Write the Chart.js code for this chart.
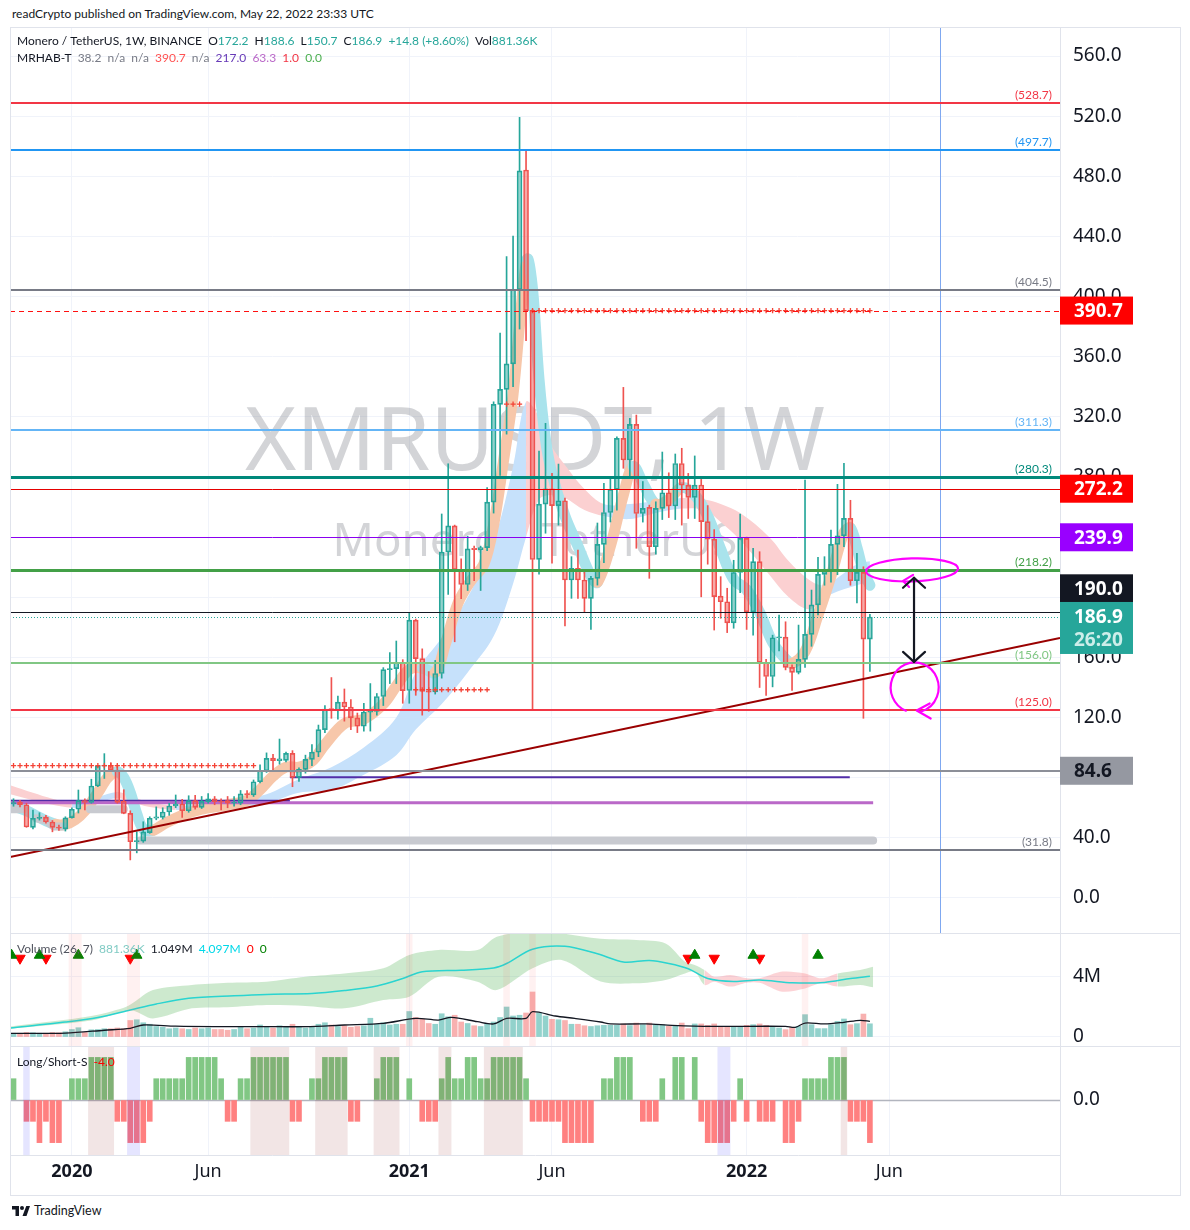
<!DOCTYPE html>
<html>
<head>
<meta charset="utf-8">
<title>XMRUSDT 1W</title>
<script src="https://cdn.jsdelivr.net/npm/chart.js@4.4.1/dist/chart.umd.min.js"></script>
<style>
  html, body { margin: 0; padding: 0; background: #fff; }
  body { width: 1190px; height: 1230px; position: relative; overflow: hidden; font-family: "Noto Sans", sans-serif; color: #131722; }
  #title { position: absolute; left: 12px; top: 6px; font-size: 12px; font-family: Lato, sans-serif; }
  canvas { position: absolute; left: 10px; }
  #frame { position: absolute; left: 10px; top: 27px; width: 1171px; height: 1169px; box-sizing: border-box; border: 1px solid #e0e3eb; pointer-events: none; }
  .sep { position: absolute; left: 10px; width: 1171px; height: 1px; background: #e0e3eb; }
  #axisFoot { position: absolute; left: 1060px; top: 1155px; width: 1px; height: 40px; background: #e0e3eb; }
  #logo { position: absolute; left: 12px; top: 1203px; font-size: 12.5px; font-family: Lato, sans-serif; display: flex; align-items: center; gap: 4px; }
</style>
</head>
<body>
<div id="title">readCrypto published on TradingView.com, May 22, 2022 23:33 UTC</div>
<canvas id="cMain" width="1170" height="906" style="top:27px"></canvas>
<canvas id="cVol" width="1170" height="113" style="top:933px"></canvas>
<canvas id="cLS" width="1170" height="149" style="top:1046px"></canvas>
<div class="sep" style="top:933px"></div>
<div class="sep" style="top:1046px"></div>
<div id="axisFoot"></div>
<div id="frame"></div>
<div id="logo"><svg width="18" height="12" viewBox="0 0 36 24"><path d="M14 22H7V9H0V2h14v20zM29 22h-8l7.5-20h7.5L29 22z" fill="#131722"/><circle cx="20" cy="6" r="4" fill="#131722"/></svg><span>TradingView</span></div>

<script>
// week index 0 = bar of 6 Jan 2020, first bar = 4 Nov 2019
const firstWeek = -9;

const opens = [
  62.5, 63.8, 62, 47, 53, 53.8, 50.5, 47, 46,
  53.4, 59, 64.8, 63.5, 74.5, 87.8, 88.3, 85, 64.5, 56.3,
  37.4, 37.8, 43.5, 53, 53.6, 57.2, 61.2, 62.5, 58, 64.7,
  60.3, 64, 66, 64.3, 64.7, 63, 63, 69.3, 68.6, 77.3,
  84.6, 93, 91.3, 91.5, 96.2, 80.2, 85.5, 92.2, 96.9, 112,
  126, 124.5, 130.3, 127, 119.8, 114.2, 123.7, 124, 134, 151.9,
  152.5, 156.6, 138, 184.8, 159.2, 137.6, 137, 149.3, 230.1, 247.5,
  218.5, 208.5, 232.6, 231.5, 233, 263.3, 328.3, 338.3, 355.2, 404.7,
  484.2, 390.7, 225.2, 262, 272.2, 261, 264.2, 211.5, 219.3, 211.5,
  199.3, 212.6, 235.2, 256.4, 271.8, 305.7, 291.3, 315, 255.7, 259.8,
  233.6, 259.1, 269.5, 260.7, 289, 274.6, 266.4, 274.7, 250.3, 238.6,
  200.8, 197, 183, 216.5, 239.2, 190.4, 223.7, 156.8, 147.3, 173.1,
  173.5, 153.4, 150.1, 158.7, 175.3, 194.9, 215.2, 217.4, 235.2, 240.9,
  252.5, 211, 216.6, 172.2
];
const highs = [
  66, 65, 63, 58.5, 56.7, 55, 51.5, 48.5, 54,
  60, 71.8, 66, 79, 88, 96, 90, 88.5, 72, 58,
  44, 50.7, 54, 60.6, 60, 63, 68.5, 65.6, 68, 68.3,
  67.5, 69.5, 67.5, 66, 67.5, 67.5, 71.5, 71.5, 78.5, 88.6,
  96.5, 95.5, 105.7, 97, 98, 86.5, 95, 102, 115, 128,
  146.6, 134.3, 139, 132, 123, 129.5, 142.6, 136, 153.2, 163.2,
  170.9, 158.5, 189.6, 185.5, 165.7, 150.6, 158, 255.4, 288.8, 248,
  225.6, 240.6, 234, 234, 273, 330, 375.8, 426.6, 440.3, 519.2,
  497.7, 391.5, 297.3, 315.7, 282.4, 288.6, 266, 227, 231.4, 217,
  214, 249.4, 275.8, 279.1, 306.7, 339.6, 319, 321.2, 277, 261.3,
  263.5, 296.6, 282.8, 295.3, 299.1, 282.4, 294, 278.4, 261, 245,
  213.7, 206, 224.6, 255.4, 240, 232.5, 230.3, 158.8, 174.8, 188.1,
  183.7, 155, 181.5, 278, 204.8, 226.5, 227, 244.7, 275.1, 289.1,
  264.5, 229.2, 220.3, 188.6
];
const lows = [
  61, 60.5, 47, 46, 51.8, 49.8, 44, 45, 44.5,
  53, 56.5, 58.5, 63, 74, 79.5, 84, 63, 56, 25.3,
  30, 37, 43, 52, 52.5, 55, 60, 53.6, 57, 59,
  59.5, 63, 62, 58.5, 60, 61, 62, 66.5, 67.5, 76.5,
  83.5, 84.5, 89, 90.5, 74, 77.5, 83, 88, 94, 110,
  119.5, 119, 117.6, 112, 110, 111, 111, 121.6, 128, 142.6,
  142.6, 129.5, 129.5, 134.8, 121.6, 124.2, 135.6, 146.2, 201.9, 170.4,
  199, 204.5, 211, 204.5, 231, 256, 281, 308.5, 340, 378.4,
  370.6, 125, 215.3, 242.6, 222.6, 248, 180.9, 199.3, 199.3, 190.4,
  178.6, 208.1, 223, 250.1, 258, 285.8, 280.7, 232.6, 250, 212.6,
  228.7, 251.7, 253, 251.7, 248, 252.4, 252.4, 200.3, 222, 178.2,
  186, 176.5, 179.4, 203, 178.6, 174.8, 140, 134.7, 140.4, 164.4,
  151.7, 138, 149, 153.4, 167.4, 188.3, 208, 210, 215, 233.6,
  208, 196.3, 119.5, 150.7
];
const closes = [
  63.5, 61.9, 47.2, 53, 53.6, 50.5, 47, 46.6, 53.3,
  59, 64.7, 63.5, 74.5, 87.8, 88.3, 85, 63.6, 56.3, 37.4,
  38.2, 44, 53, 54, 57.2, 61.2, 62.5, 58, 64.7, 60.3,
  64.2, 66, 64, 63.8, 63, 63.7, 69.2, 68.7, 77.3, 84.6,
  92.9, 91.3, 92.5, 96.2, 80.2, 85.5, 92.2, 96.9, 112, 125.6,
  124.5, 130.3, 127, 119.8, 114.2, 123.7, 124.2, 134, 151.9, 152.5,
  156.6, 137.9, 184.8, 159.2, 137.3, 137, 149.3, 230.1, 247.5, 218.5,
  208.5, 232.2, 231.7, 233, 263.3, 328.3, 338.3, 355.2, 404.7, 483.6,
  390.7, 225.1, 262, 272.2, 261, 264.2, 211.5, 219.3, 211.5, 199.3,
  212.6, 235.2, 256.4, 271.8, 305.7, 291.3, 315, 255.7, 259.1, 233.6,
  259.1, 269.5, 260.7, 289, 274.6, 266.4, 274.6, 250.3, 238.6, 200.4,
  197, 183, 216.5, 239.2, 190.4, 223.7, 156.8, 147.3, 173.1, 173.6,
  153.4, 150.1, 158.7, 175.3, 194.9, 215.2, 217.4, 235.2, 240.9, 252.5,
  211, 216.6, 172.2, 186.9
];

// volume (millions)
const volumes = [
  0.25, 0.25, 0.3, 0.28, 0.25, 0.25, 0.3, 0.28, 0.35,
  0.5, 0.62, 0.3, 0.48, 0.5, 0.55, 0.55, 0.6, 0.55, 1.1, 1.15,
  0.95, 0.85, 0.7, 0.65, 0.55, 0.6, 0.55, 0.5, 0.6, 0.55,
  0.6, 0.5, 0.5, 0.45, 0.5, 0.65, 0.55, 0.6, 0.8, 0.7,
  0.6, 0.75, 0.7, 0.85, 0.65, 0.6, 0.7, 0.85, 0.95, 0.8,
  0.7, 0.75, 0.65, 0.7, 0.75, 1.25, 0.85, 0.95, 0.8, 0.85,
  0.85, 1.7, 1.3, 1.2, 0.9, 0.85, 1.55, 1.35, 1.45, 1.0,
  0.9, 0.75, 0.7, 0.85, 1.0, 1.3, 2.0, 1.4, 1.45, 1.6,
  3.0, 1.6, 1.4, 1.18, 1.15, 1.1, 0.85, 0.85, 0.75, 0.7,
  0.75, 0.78, 0.78, 0.78, 0.87, 0.76, 0.93, 0.82, 0.93, 0.82,
  0.82, 0.71, 0.71, 0.93, 0.56, 0.87, 0.87, 0.78, 0.87, 0.71,
  0.71, 0.71, 0.71, 0.78, 0.82, 0.87, 0.78, 0.64, 0.6, 0.49,
  0.64, 0.71, 1.49, 0.82, 0.56, 0.56, 0.82, 1.04, 1.2, 0.82,
  0.89, 1.53, 0.88
];
const volMaX = [-9.5, -1, 5, 9, 11, 16, 24, 30, 36, 42, 48, 53, 56.5, 58.5, 62.5, 65, 67, 70, 71, 74.5, 77.5, 81.5, 83, 88.5, 92.5, 98.5, 110, 111.5, 113, 116, 119, 121.5, 123];
const volMaY = [0.24, 0.26, 0.45, 0.58, 0.8, 0.72, 0.69, 0.69, 0.69, 0.8, 0.91, 1.24, 1.13, 1.31, 1.02, 0.87, 1.24, 1.24, 1.69, 1.4, 1.24, 1.0, 0.87, 0.87, 0.78, 0.71, 0.71, 0.64, 0.93, 0.87, 0.98, 1.11, 1.04];
const volAvgX = [-9.5, -1, 4, 9, 13, 18, 25, 30, 37, 42, 47, 51, 54, 60, 65, 67, 71, 76, 81, 85, 89, 92, 95, 98, 102, 106, 111, 116, 120, 123];
const volAvgY = [0.6, 1.0, 1.3, 1.8, 2.2, 2.58, 2.75, 2.84, 2.9, 3.1, 3.4, 3.9, 4.35, 4.45, 4.6, 4.9, 5.85, 6.05, 5.55, 5.0, 5.1, 4.9, 4.55, 3.9, 3.7, 3.8, 3.62, 3.64, 3.9, 4.05];
const bandX  = [-9.5, 3, 8, 9.5, 12.5, 18.5, 24, 30, 36, 42, 48, 52, 56.5, 62.5, 65.5, 71, 75.5, 81.5, 87, 91.5, 94.5, 96, 97.5, 99, 101.5, 104, 106, 109.5, 113, 115.5, 118, 121.5, 123.5];
const bandHi = [0.7, 1.4, 1.95, 2.3, 3.13, 3.47, 3.62, 3.69, 4.02, 4.24, 4.58, 5.47, 5.8, 5.8, 6.69, 7.0, 6.9, 6.55, 6.47, 6.24, 5.02, 4.8, 4.47, 4.02, 4.13, 3.91, 3.91, 4.36, 4.24, 3.91, 4.24, 4.47, 4.69];
const bandLo = [0.55, 1.1, 1.7, 1.75, 1.24, 1.91, 1.98, 2.13, 2.07, 1.91, 2.47, 2.69, 4.02, 3.69, 3.13, 4.58, 5.13, 3.7, 3.58, 3.8, 4.24, 4.36, 3.47, 3.69, 3.36, 3.62, 3.62, 3.02, 3.24, 3.58, 3.36, 3.47, 3.31];
const bandPink = [[96.5, 116.5]];
const triUpX = [-9.3, -5, 1, 10, 96, 105, 115];
const triDownX = [-8, -4, 9, 95, 99, 106];
const volShade = [[0, 1], [9, 10], [52, 52], [67, 67], [71, 71], [113, 113]];

// Long/Short-S
const lsValues = [
  1, 0, -1, -1, -2, -1, -2, -2, 0,
  1, 1, 1, 2, 2, 2, 2,
  -1, -1, -2, -2, -2, -1,
  1, 1, 1, 1, 1, 2, 2, 2, 2, 2, 1,
  -1, -1,
  1, 1, 2, 2, 2, 2, 2, 2,
  -1, -1, 0,
  1, 1, 2, 2, 2, 2,
  -1, -1, 0, 0,
  1, 2, 2, 2, 0, 1, 0,
  -1, -1, -1,
  1, 2, 1, 1, 2, 2, 1, 1, 2, 2, 2, 2, 2, 1,
  -1, -1, -1, -1, -1, -2, -2, -2, -2, -2,
  0, 1, 1, 2, 2, 2, 0, -1, -1, -1,
  1, 0, 2, 2, 0, 2, -1, -2, -2, -2,
  -2, -1, 1, -1, 0, -1, -1, -1, 0, -2,
  -2, -1, 1, 1, 1, 1, 2, 2, 2, -1,
  -1, -1, -2
];
const lsPinkShade = [[3, 6], [28, 33], [38, 42], [47, 50], [57, 58], [64, 69], [119, 119]];
const lsBlueShade = [[-7, -7], [9, 10], [100, 101]];

// ribbons
const fastX = [-9.5, -7, -5, -2.5, -1, 0.5, 2, 4, 5.5, 7, 8, 9, 10, 11, 12.5, 14.5, 17, 20, 24, 27, 29, 31, 33, 35, 37, 39, 42, 45, 48, 50, 52, 54, 56, 57.5, 59.5, 61.5, 63.5, 65, 66.5, 68, 69.3, 70.2, 71, 72, 73, 74, 76, 78, 80, 81, 83, 85, 86.5, 88, 90, 92, 94, 96, 98, 100, 102, 104, 106, 108, 110, 111, 113, 115, 117, 119, 120, 121, 122, 123];
const fastY = [62, 58, 53.5, 49, 49, 52, 58, 70, 80, 84, 80, 70, 56, 46, 45, 50, 55, 59, 62, 65, 72, 81, 87, 87, 91, 102, 116, 119, 129, 141, 152, 153, 150, 168, 196, 211, 222, 248, 290, 335, 395, 425, 405, 345, 305, 282, 254, 234, 214, 210, 234, 268, 287, 276, 262, 265, 273, 268, 254, 232, 212, 205, 190, 170, 159, 156, 164, 188, 214, 243, 246, 233, 217, 208];
const slowX  = [-9.5, -6, -3, 0, 2, 4, 7, 9, 12, 16, 20, 25, 30, 35, 40, 45, 50, 53, 57, 61, 65, 68, 70, 72, 74, 76, 79, 82, 86, 90, 94, 97.5, 100, 103, 107.5, 110.5, 113.5, 115.5, 117, 121, 123];
const slowHi = [75, 70, 66, 63, 63, 67, 70.5, 68, 63.5, 61.5, 62, 64.5, 69, 79, 87, 100, 120, 150, 173, 200, 237, 287, 330, 320, 300, 288, 272, 262, 262, 264, 266, 265, 262, 256, 240, 224, 212, 208, 210, 222, 224];
const slowLo = [69, 65, 62, 60, 60.5, 63, 66.5, 64, 60.5, 58.5, 59, 60.5, 63, 70, 72, 82, 95, 112, 129, 150, 174, 209, 240, 265, 268, 266, 258, 254, 252, 256, 259, 258, 250, 238, 215, 200, 192, 197, 202, 208, 210];

// other indicator lines
const supportX = [-9.5, -7.5, -6.5, -5.5, -4, -2.8, -1.2, 0, 2.8, 8, 9, 10.5, 123.5];
const supportY = [59, 59, null, 53, 51.5, 47.5, 47.5, null, 59, 59, null, 38.2, 38.2];
const stepPurpleX = [-9.5, 33.6, 33.7, 33.6, 119.9];
const stepPurpleY = [64.7, 64.7, null, 80.3, 80.3];
const stepOrchidX = [-9.5, 123.5];
const stepOrchidY = [63.3, 63.3];
const crossRuns = [[-9, 28, 88.0], [53, 64, 138.5], [67, 69, 328.5], [71, 123, 390.7]];
const trendX = [-9.54, 152.3];
const trendY = [27.3, 172.9];

// drawn levels
const levelPrices = [528.7, 497.7, 404.5, 311.3, 280.3, 272.2, 239.9, 218.2, 190.0, 156.0, 125.0, 84.6, 31.8];
const signalPrice = 390.7;
const markerWeek = 133.8;

// axes
const dateTicks = [0, 21, 52, 74, 104, 126];
const dateLabels = ['2020', 'Jun', '2021', 'Jun', '2022', 'Jun'];
const priceTicks = [0, 40, 80, 120, 160, 200, 240, 280, 320, 360, 400, 440, 480, 520, 560];
const volTicks = [0, 4];
const lsTicks = [0];

// ---------- styles ----------
const X_MIN = -9.54, X_MAX = 152.3;
const UP = '#26a69a', DN = '#ef5350';
const UP_FILL = 'rgba(38,166,154,0.5)', DN_FILL = 'rgba(239,83,80,0.5)';
const FAST_UP = '#f7c7aa', FAST_DN = '#a9e3ec';
const SLOW_UP = '#c6e1fb', SLOW_DN = '#fbd0d1';
const FONT = '"Noto Sans", sans-serif';
const SMALL_FONT = 'Lato, sans-serif';

const levelStyles = [
  { color: '#f23645', w: 2, label: true },
  { color: '#2196f3', w: 2, label: true },
  { color: '#787b86', w: 2, label: true },
  { color: '#64b5f6', w: 2, label: true },
  { color: '#00897b', w: 3, label: true },
  { color: '#e50000', w: 1 },
  { color: '#8a00f0', w: 1 },
  { color: '#43a047', w: 3, label: true },
  { color: '#131722', w: 1 },
  { color: '#81c784', w: 2, label: true },
  { color: '#f23645', w: 2, label: true },
  { color: '#8c8f98', w: 2 },
  { color: '#787b86', w: 2, label: true }
];

const lastClose = closes[closes.length - 1];
const priceBoxes = [
  { v: 390.7, bg: '#ff0000', fg: '#ffffff', dy: 0 },
  { v: 272.2, bg: '#ff0000', fg: '#ffffff', dy: 0 },
  { v: 239.9, bg: '#9900ff', fg: '#ffffff', dy: 0 },
  { v: 190.0, bg: '#131722', fg: '#ffffff', dy: -24 },
  { v: lastClose, bg: '#26a69a', fg: '#ffffff', dy: 0, sub: '26:20' },
  { v: 84.6, bg: '#9598a1', fg: '#131722', dy: 0 }
];

const noteOval = { x: 129.5, y: 218.2 };
const noteArrow = { x: 129.8, top: 213, bottom: 157 };
const noteLoop = { x: 129.9, y: 140 };

Chart.defaults.font.family = FONT;
Chart.defaults.color = '#131722';

const weekX = opens.map((_, i) => firstWeek + i);
const isUp = opens.map((o, i) => closes[i] >= o);
const bodyLo = opens.map((o, i) => Math.min(o, closes[i]));
const bodyHi = opens.map((o, i) => Math.max(o, closes[i]));

function pts(xs, ys) { return xs.map((x, i) => ({ x, y: ys[i] })); }

function xScale(showLabels) {
  return {
    type: 'linear', min: X_MIN, max: X_MAX, offset: false,
    afterBuildTicks: s => { s.ticks = dateTicks.map(v => ({ value: v })); },
    ticks: {
      display: showLabels, autoSkip: false, maxRotation: 0, padding: 6, color: '#131722',
      callback: (v, i) => dateLabels[i],
      font: c => ({ size: 18, weight: /^\d/.test(dateLabels[c.index] || '') ? 'bold' : 'normal' })
    },
    grid: { color: '#f0f3fa', drawTicks: false, offset: false },
    border: { display: showLabels, color: '#e0e3eb' },
    afterFit: s => { s.height = showLabels ? 40 : 0; s.paddingLeft = 0; s.paddingRight = 0; s.paddingTop = 0; s.paddingBottom = 0; }
  };
}

function yScale(min, max, ticks, fmt) {
  return {
    type: 'linear', position: 'right', min, max,
    afterBuildTicks: s => { s.ticks = ticks.map(v => ({ value: v })); },
    afterFit: s => { s.width = 120; s.paddingTop = 0; s.paddingBottom = 0; s.paddingLeft = 0; s.paddingRight = 0; },
    ticks: { callback: fmt, font: { size: 19 }, color: '#131722', padding: 13, autoSkip: false },
    grid: { color: '#f0f3fa', drawTicks: false },
    border: { color: '#e0e3eb' }
  };
}

const baseOptions = {
  responsive: false, animation: false, events: [],
  layout: { padding: 0, autoPadding: false },
  plugins: { legend: { display: false }, tooltip: { enabled: false } }
};

function legendLine(ctx, x, y, parts, size) {
  ctx.font = size + 'px ' + SMALL_FONT;
  ctx.textBaseline = 'middle';
  ctx.textAlign = 'left';
  parts.forEach(([t, c]) => { ctx.fillStyle = c; ctx.fillText(t, x, y); x += ctx.measureText(t).width; });
}

function shade(chart, ranges, color) {
  const { ctx, chartArea: a, scales: { x } } = chart;
  ctx.fillStyle = color;
  ranges.forEach(([s, e]) => {
    const l = x.getPixelForValue(s - 0.5), r = x.getPixelForValue(e + 0.5);
    ctx.fillRect(l, a.top, r - l, a.bottom - a.top);
  });
}

// ---------- main price pane ----------
const mainDeco = {
  id: 'mainDeco',
  beforeDatasetsDraw(chart) {
    const { ctx } = chart;
    ctx.save();
    ctx.fillStyle = 'rgba(120,123,134,0.33)';
    ctx.textAlign = 'center';
    ctx.textBaseline = 'alphabetic';
    const fit = (txt, w) => { ctx.font = '100px ' + FONT; return 100 * w / ctx.measureText(txt).width; };
    let s = fit('XMRUSDT, 1W', 580);
    ctx.font = s + 'px ' + FONT;
    ctx.fillText('XMRUSDT, 1W', 525, 443);
    s = fit('Monero / TetherUS', 405);
    ctx.font = s + 'px ' + FONT;
    ctx.fillText('Monero / TetherUS', 525, 529);
    ctx.restore();
  },
  afterDatasetsDraw(chart) {
    const { ctx, chartArea: a, scales: { x, y } } = chart;
    ctx.save();
    ctx.beginPath(); ctx.rect(a.left, a.top, a.right - a.left, a.bottom - a.top); ctx.clip();

    // vertical marker
    const vx = Math.round(x.getPixelForValue(markerWeek)) + 0.5;
    ctx.strokeStyle = '#7fa8f0'; ctx.lineWidth = 1;
    ctx.beginPath(); ctx.moveTo(vx, a.top); ctx.lineTo(vx, a.bottom); ctx.stroke();

    // signal dashed line
    let py = Math.round(y.getPixelForValue(signalPrice)) + 0.5;
    ctx.strokeStyle = '#ff1010'; ctx.lineWidth = 1.2; ctx.setLineDash([5, 4]);
    ctx.beginPath(); ctx.moveTo(a.left, py); ctx.lineTo(a.right, py); ctx.stroke();

    // last price dotted line
    py = Math.round(y.getPixelForValue(lastClose)) + 0.5;
    ctx.strokeStyle = '#26a69a'; ctx.lineWidth = 1; ctx.setLineDash([1, 2]);
    ctx.beginPath(); ctx.moveTo(a.left, py); ctx.lineTo(a.right, py); ctx.stroke();
    ctx.setLineDash([]);

    // level lines
    ctx.font = '12px ' + SMALL_FONT;
    ctx.textAlign = 'right'; ctx.textBaseline = 'bottom';
    levelPrices.forEach((p, i) => {
      const st = levelStyles[i];
      const ly = Math.round(y.getPixelForValue(p)) + (st.w % 2 ? 0.5 : 0);
      ctx.strokeStyle = st.color; ctx.lineWidth = st.w;
      ctx.beginPath(); ctx.moveTo(a.left, ly); ctx.lineTo(a.right, ly); ctx.stroke();
      if (st.label) {
        ctx.fillStyle = st.color;
        ctx.fillText('(' + p.toFixed(1) + ')', a.right - 8, ly - 2);
      }
    });

    // hand drawn notes
    ctx.strokeStyle = '#ff00ff'; ctx.lineWidth = 2.2; ctx.lineCap = 'round'; ctx.lineJoin = 'round';
    const ex = x.getPixelForValue(noteOval.x), ey = y.getPixelForValue(noteOval.y);
    ctx.beginPath(); ctx.ellipse(ex, ey, 46, 11.5, -0.03, 0, Math.PI * 2); ctx.stroke();
    ctx.beginPath(); ctx.moveTo(ex + 1, ey + 5); ctx.lineTo(ex - 9, ey + 11); ctx.lineTo(ex - 3, ey + 17); ctx.stroke();
    const lx = x.getPixelForValue(noteLoop.x), lyy = y.getPixelForValue(noteLoop.y);
    ctx.beginPath(); ctx.ellipse(lx, lyy, 24, 25, 0, Math.PI * 0.62, Math.PI * 2.42); ctx.stroke();
    ctx.beginPath(); ctx.moveTo(lx + 15, lyy + 16); ctx.lineTo(lx + 2, lyy + 23); ctx.lineTo(lx + 16, lyy + 31); ctx.stroke();

    ctx.strokeStyle = '#131722';
    const ax = x.getPixelForValue(noteArrow.x), at = y.getPixelForValue(noteArrow.top), ab = y.getPixelForValue(noteArrow.bottom);
    ctx.beginPath(); ctx.moveTo(ax, at); ctx.lineTo(ax, ab); ctx.stroke();
    ctx.beginPath(); ctx.moveTo(ax - 11, at + 10); ctx.lineTo(ax, at); ctx.lineTo(ax + 11, at + 10); ctx.stroke();
    ctx.beginPath(); ctx.moveTo(ax - 11, ab - 10); ctx.lineTo(ax, ab); ctx.lineTo(ax + 11, ab - 10); ctx.stroke();
    ctx.restore();
  },
  afterDraw(chart) {
    const { ctx, chartArea: a, scales: { y } } = chart;
    ctx.save();
    // price boxes on the axis
    priceBoxes.forEach(b => {
      const cy = y.getPixelForValue(b.v) + b.dy;
      const h = b.sub ? 52 : 28;
      const top = b.sub ? cy - 15 : cy - 14;
      ctx.fillStyle = b.bg;
      ctx.fillRect(a.right, top, 73, h);
      ctx.fillStyle = b.fg;
      ctx.font = 'bold 19px ' + FONT;
      ctx.textAlign = 'left'; ctx.textBaseline = 'middle';
      ctx.fillText(b.v.toFixed(1), a.right + 14, cy + 1);
      if (b.sub) {
        ctx.fillStyle = '#cdeeea';
        ctx.fillText(b.sub, a.right + 14, cy + 24);
      }
    });
    // legend
    const D = '#131722', T = '#26a69a', G = '#787b86';
    legendLine(ctx, 7, 14, [['Monero / TetherUS, 1W, BINANCE', D], ['  O', D], ['172.2', T], ['  H', D], ['188.6', T],
      ['  L', D], ['150.7', T], ['  C', D], ['186.9', T], ['  +14.8 (+8.60%)', T], ['  Vol', D], ['881.36K', T]], 12);
    legendLine(ctx, 7, 31, [['MRHAB-T', D], ['  38.2', G], ['  n/a', G], ['  n/a', G], ['  390.7', '#ff5252'], ['  n/a', G],
      ['  217.0', '#673ab7'], ['  63.3', '#ba68c8'], ['  1.0', '#f23645'], ['  0.0', '#4caf50']], 12);
    ctx.restore();
  }
};

const crossPts = [];
crossRuns.forEach(([s, e, p]) => { for (let w = s; w <= e; w++) crossPts.push({ x: w, y: p }); });

new Chart(document.getElementById('cMain'), {
  type: 'line',
  data: {
    datasets: [
      { data: pts(slowX, slowHi), borderWidth: 0, pointRadius: 0, tension: 0.35, fill: '+1', backgroundColor: SLOW_UP,
        segment: { backgroundColor: c => c.p1.parsed.y >= c.p0.parsed.y ? SLOW_UP : SLOW_DN }, order: 21, clip: 0 },
      { data: pts(slowX, slowLo), borderWidth: 0, pointRadius: 0, tension: 0.35, order: 21, clip: 0 },
      { data: pts(fastX, fastY), borderColor: FAST_UP, borderWidth: 11, pointRadius: 0, tension: 0.35,
        borderCapStyle: 'round', borderJoinStyle: 'round',
        segment: { borderColor: c => c.p1.parsed.y >= c.p0.parsed.y ? FAST_UP : FAST_DN }, order: 19, clip: 0 },
      { data: pts(supportX, supportY), borderColor: '#c8cad0', borderWidth: 8, borderCapStyle: 'round',
        pointRadius: 0, spanGaps: false, order: 15, clip: 0 },
      { data: pts(stepOrchidX, stepOrchidY), borderColor: '#ba68c8', borderWidth: 3, pointRadius: 0, order: 14, clip: 0 },
      { data: pts(stepPurpleX, stepPurpleY), borderColor: '#512da8', borderWidth: 2, pointRadius: 0, spanGaps: false, order: 14, clip: 0 },
      { type: 'bar', data: weekX.map((x, i) => ({ x, y: [lows[i], bodyLo[i]] })), backgroundColor: isUp.map(u => u ? UP : DN),
        barThickness: 1, grouped: false, order: 4 },
      { type: 'bar', data: weekX.map((x, i) => ({ x, y: [bodyHi[i], highs[i]] })), backgroundColor: isUp.map(u => u ? UP : DN),
        barThickness: 1, grouped: false, order: 4 },
      { type: 'bar', data: weekX.map((x, i) => {
          let lo = bodyLo[i], hi = bodyHi[i];
          if (hi - lo < 0.7) { const m = (hi + lo) / 2; lo = m - 0.35; hi = m + 0.35; }
          return { x, y: [lo, hi] };
        }),
        backgroundColor: isUp.map(u => u ? UP_FILL : DN_FILL), borderColor: isUp.map(u => u ? UP : DN),
        borderWidth: 1, borderSkipped: false, barThickness: 5, grouped: false, order: 3 },
      { data: crossPts, showLine: false, pointStyle: 'cross', pointRadius: 2.6, borderWidth: 1.3,
        borderColor: '#f44336', order: 2, clip: 0 },
      { data: pts(trendX, trendY), borderColor: '#9a0000', borderWidth: 2, pointRadius: 0, order: 1, clip: 0 }
    ]
  },
  options: Object.assign({}, baseOptions, {
    scales: { x: xScale(false), y: yScale(-23.3, 579.3, priceTicks, v => v.toFixed(1)) }
  }),
  plugins: [mainDeco]
});

// ---------- volume pane ----------
const volDeco = {
  id: 'volDeco',
  afterDatasetsDraw(chart) {
    const { ctx } = chart;
    ctx.save();
    shade(chart, volShade, 'rgba(255,82,82,0.08)');
    ctx.restore();
  },
  afterDraw(chart) {
    const { ctx } = chart;
    ctx.save();
    legendLine(ctx, 7, 16, [['Volume (26, 7)', '#50535e'], ['  881.36K', '#80cbc4'], ['  1.049M', '#131722'],
      ['  4.097M', '#00d8e8'], ['  0', '#ff0000'], ['  0', '#008000']], 12);
    ctx.restore();
  }
};

new Chart(document.getElementById('cVol'), {
  type: 'line',
  data: {
    datasets: [
      { data: pts(bandX, bandHi), borderWidth: 0, pointRadius: 0, tension: 0.3, fill: '+1',
        backgroundColor: 'rgba(76,175,80,0.28)',
        segment: { backgroundColor: c => bandPink.some(([s, e]) => c.p0.parsed.x >= s && c.p0.parsed.x < e) ? 'rgba(242,54,69,0.22)' : undefined },
        order: 10, clip: 0 },
      { data: pts(bandX, bandLo), borderWidth: 0, pointRadius: 0, tension: 0.3, order: 10, clip: 0 },
      { type: 'bar', data: weekX.map((x, i) => ({ x, y: volumes[i] })),
        backgroundColor: isUp.map(u => u ? 'rgba(38,166,154,0.5)' : 'rgba(239,83,80,0.45)'),
        barThickness: 5, grouped: false, order: 8 },
      { data: pts(volMaX, volMaY), borderColor: '#131722', borderWidth: 1.3, pointRadius: 0, tension: 0.3, order: 6, clip: 0 },
      { data: pts(volAvgX, volAvgY), borderColor: '#2ad4d0', borderWidth: 1.5, pointRadius: 0, tension: 0.3, order: 5, clip: 0 },
      { data: triUpX.map(x => ({ x, y: 5.45 })), showLine: false, pointStyle: 'triangle', pointRadius: 6,
        backgroundColor: '#008000', borderColor: '#008000', borderWidth: 1, order: 2, clip: 0 },
      { data: triDownX.map(x => ({ x, y: 5.25 })), showLine: false, pointStyle: 'triangle', pointRotation: 180, pointRadius: 6,
        backgroundColor: '#ff0000', borderColor: '#ff0000', borderWidth: 1, order: 2, clip: 0 }
    ]
  },
  options: Object.assign({}, baseOptions, {
    scales: { x: xScale(false), y: yScale(-0.6, 6.933, volTicks, v => v === 0 ? '0' : v + 'M') }
  }),
  plugins: [volDeco]
});

// ---------- long / short pane ----------
const lsDeco = {
  id: 'lsDeco',
  beforeDatasetsDraw(chart) {
    const { ctx, chartArea: a, scales: { y } } = chart;
    ctx.save();
    const zy = Math.round(y.getPixelForValue(0)) + 0.5;
    ctx.strokeStyle = '#b2b5be'; ctx.lineWidth = 1.5;
    ctx.beginPath(); ctx.moveTo(a.left, zy); ctx.lineTo(a.right, zy); ctx.stroke();
    ctx.restore();
  },
  afterDatasetsDraw(chart) {
    const { ctx } = chart;
    ctx.save();
    shade(chart, lsPinkShade, 'rgba(128,0,0,0.1)');
    shade(chart, lsBlueShade, 'rgba(0,0,255,0.1)');
    ctx.restore();
  },
  afterDraw(chart) {
    const { ctx } = chart;
    ctx.save();
    legendLine(ctx, 7, 16, [['Long/Short-S', '#131722'], ['  -4.0', '#ff0000']], 12);
    ctx.restore();
  }
};

new Chart(document.getElementById('cLS'), {
  type: 'line',
  data: {
    datasets: [
      { type: 'bar', data: weekX.map((x, i) => ({ x, y: lsValues[i] === 0 ? null : lsValues[i] })),
        backgroundColor: lsValues.map(v => v > 0 ? '#81c784' : '#ff8080'),
        barThickness: 5, grouped: false }
    ]
  },
  options: Object.assign({}, baseOptions, {
    scales: { x: xScale(true), y: yScale(-2.58, 2.535, lsTicks, v => v.toFixed(1)) }
  }),
  plugins: [lsDeco]
});
</script>
</body>
</html>
